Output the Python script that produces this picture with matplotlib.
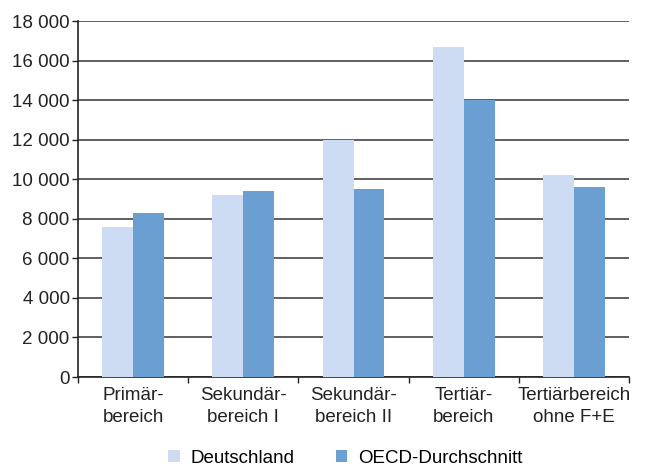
import matplotlib
matplotlib.use("Agg")
import matplotlib.pyplot as plt
import numpy as np
from matplotlib.ticker import FuncFormatter, FixedLocator

categories = ["Primär-\nbereich", "Sekundär-\nbereich I", "Sekundär-\nbereich II",
              "Tertiär-\nbereich", "Tertiärbereich\nohne F+E"]
deutschland = [7600, 9200, 12000, 16700, 10200]
oecd = [8300, 9400, 9500, 14000, 9600]
series_names = ["Deutschland", "OECD-Durchschnitt"]
yticks = list(range(0, 18001, 2000))

plt.rcParams['font.family'] = ['Liberation Sans', 'DejaVu Sans']
FS = 13.5
plt.rcParams['font.size'] = FS

fig = plt.figure(figsize=(6.46, 4.73), dpi=100)
ax = fig.add_axes([78/646, 1-377/473, (629-78)/646, (377-21)/473])

x = np.arange(len(categories))
w = 0.28
c_de = '#cddcf3'
c_oecd = '#6b9fd2'
ax.bar(x - w/2, deutschland, w, color=c_de, label=series_names[0], zorder=3)
ax.bar(x + w/2, oecd, w, color=c_oecd, label=series_names[1], zorder=3)

ax.set_xlim(-0.5, len(categories) - 0.5)
ax.set_ylim(0, 18000)
ax.set_yticks(yticks)
ax.yaxis.set_major_formatter(FuncFormatter(lambda v, p: f"{int(v):,}".replace(",", " ")))
ax.yaxis.grid(True, color='#444444', linewidth=1.2, zorder=0)
ax.set_axisbelow(True)

ax.xaxis.set_major_locator(FixedLocator(np.arange(-0.5, len(categories), 1.0)))
ax.xaxis.set_minor_locator(FixedLocator(x))
ax.set_xticklabels([], minor=False)
ax.set_xticklabels(categories, minor=True, linespacing=1.4)
ax.tick_params(axis='x', which='major', length=4, width=1, color='#222222')
ax.tick_params(axis='x', which='minor', length=0, pad=7, labelsize=FS, colors='#222222')
ax.tick_params(axis='y', length=4, width=1, color='#222222', labelcolor='#222222', pad=2, labelsize=FS)

for s in ['top', 'right']:
    ax.spines[s].set_visible(False)
for s in ['left', 'bottom']:
    ax.spines[s].set_color('#222222')
    ax.spines[s].set_linewidth(1.2)

fig.legend(loc='lower center', bbox_to_anchor=(0.535, -0.022), ncol=2, frameon=False,
           handlelength=0.6, handleheight=0.6, handletextpad=0.6, columnspacing=2.2,
           fontsize=FS)

fig.savefig("out.png", dpi=100)
